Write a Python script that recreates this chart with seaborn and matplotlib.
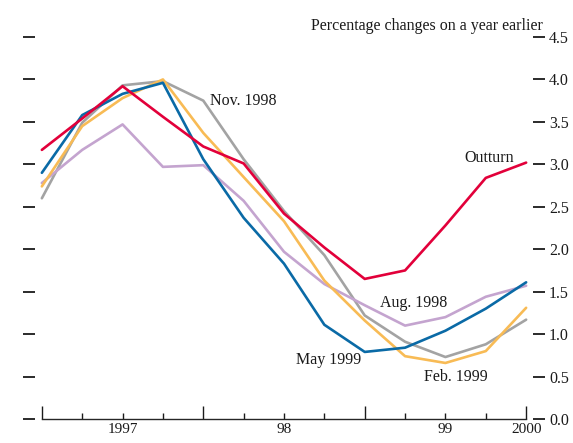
import pandas as pd
import matplotlib.pyplot as plt
import seaborn as sns

# quarterly points, start of 1997 to start of 2000
quarters = list(range(13))

outturn = [3.17, 3.54, 3.92, 3.56, 3.21, 3.01, 2.42, 2.02, 1.65, 1.75, 2.28, 2.84, 3.02]
nov_1998 = [2.60, 3.49, 3.93, 3.98, 3.75, 3.06, 2.45, 1.93, 1.22, 0.91, 0.73, 0.88, 1.17]
aug_1998 = [2.78, 3.17, 3.47, 2.97, 2.99, 2.57, 1.97, 1.59, 1.34, 1.10, 1.20, 1.44, 1.57]
feb_1999 = [2.74, 3.45, 3.78, 4.00, 3.37, 2.85, 2.33, 1.63, 1.16, 0.74, 0.66, 0.80, 1.31]
may_1999 = [2.90, 3.58, 3.83, 3.96, 3.06, 2.37, 1.83, 1.11, 0.79, 0.84, 1.04, 1.30, 1.61]

series_names = ["Nov. 1998", "Aug. 1998", "Feb. 1999", "May 1999", "Outturn"]
series_values = [nov_1998, aug_1998, feb_1999, may_1999, outturn]
colors = {"Nov. 1998": "#a3a3a3", "Aug. 1998": "#c4a4cf", "Feb. 1999": "#f8bb55",
          "May 1999": "#0a6aa6", "Outturn": "#e2003a"}

rows = []
for name, vals in zip(series_names, series_values):
    for q, v in zip(quarters, vals):
        rows.append({"quarter": q, "value": v, "series": name})
df = pd.DataFrame(rows)

sns.set_style("ticks")
plt.rcParams['font.family'] = ['Liberation Serif', 'DejaVu Serif']

fig = plt.figure(figsize=(5.73, 4.43), dpi=100)
ax = fig.add_axes([35 / 573, 24 / 443, 498 / 573, 399 / 443])

sns.lineplot(data=df, x="quarter", y="value", hue="series", hue_order=series_names,
             palette=colors, linewidth=1.9, legend=False, ax=ax)

ax.set_xlim(-0.17, 12.17)
ax.set_ylim(0, 4.7)
ax.set_xlabel("")
ax.set_ylabel("")

for side in ["top", "left", "right"]:
    ax.spines[side].set_visible(False)
ax.spines["bottom"].set_bounds(0, 12)
ax.spines["bottom"].set_linewidth(1.0)

# y ticks on both sides, labels only on the right
yticks = [0.0, 0.5, 1.0, 1.5, 2.0, 2.5, 3.0, 3.5, 4.0, 4.5]
ax.set_yticks(yticks)
ax.set_yticklabels([f"{t:.1f}" for t in yticks])
ax.tick_params(axis="y", left=True, right=True, labelleft=False, labelright=True,
               direction="out", length=8.5, width=1.3, pad=3, labelsize=11.5,
               colors="#1a1a1a")

# x ticks: years as major, quarters as minor
major_x = [0, 4, 8, 12]
minor_x = [1, 2, 3, 5, 6, 7, 9, 10, 11]
ax.set_xticks(major_x)
ax.set_xticklabels(["", "", "", "2000"])
ax.set_xticks(minor_x, minor=True)
ax.set_xticklabels(["", "1997", "", "", "98", "", "", "99", ""], minor=True)
ax.tick_params(axis="x", which="major", direction="in", length=9.5, width=1.0,
               pad=3, labelsize=11, colors="#1a1a1a")
ax.tick_params(axis="x", which="minor", direction="in", length=4.5, width=1.0,
               pad=3, labelsize=11, colors="#1a1a1a")

ax.text(4.17, 3.74, "Nov. 1998", ha="left", va="center", fontsize=11.5, color="#1a1a1a")
ax.text(11.70, 3.07, "Outturn", ha="right", va="center", fontsize=11.5, color="#1a1a1a")
ax.text(8.38, 1.37, "Aug. 1998", ha="left", va="center", fontsize=11.5, color="#1a1a1a")
ax.text(6.30, 0.70, "May 1999", ha="left", va="center", fontsize=11.5, color="#1a1a1a")
ax.text(9.47, 0.50, "Feb. 1999", ha="left", va="center", fontsize=11.5, color="#1a1a1a")

fig.text(543 / 573, 1 - 26 / 443, "Percentage changes on a year earlier",
         ha="right", va="center", fontsize=11.5, color="#1a1a1a")

fig.savefig("out.png", dpi=100)
